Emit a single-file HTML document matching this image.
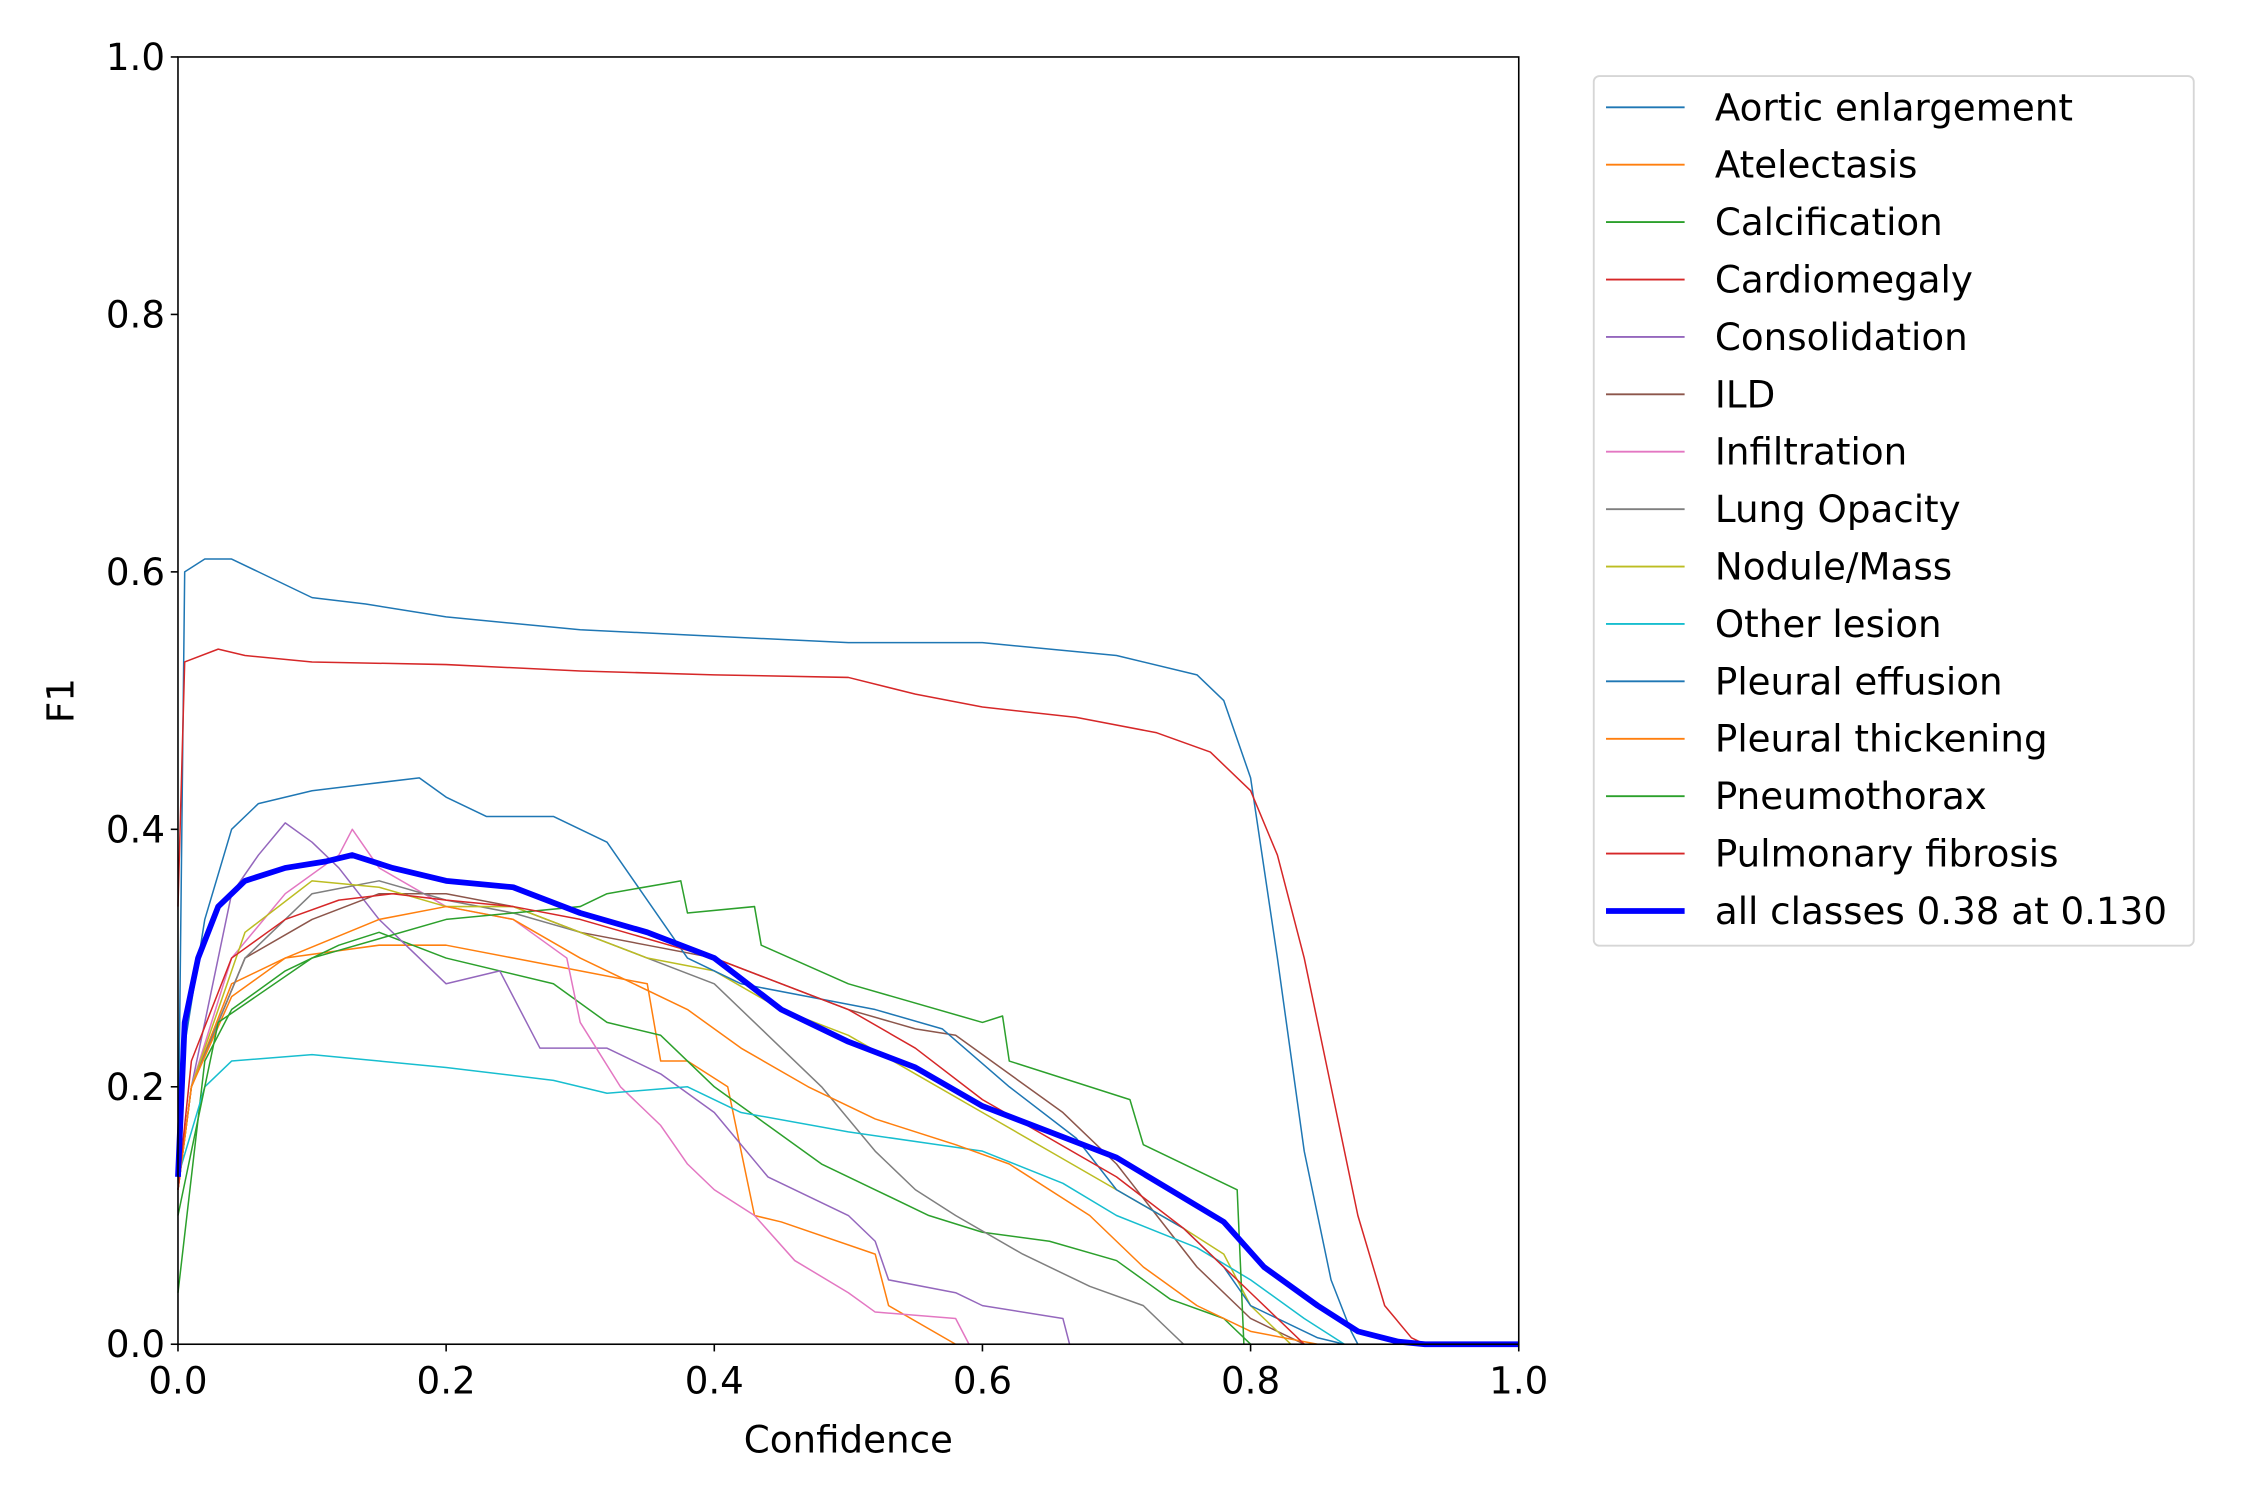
<!DOCTYPE html>
<html><head><meta charset="utf-8"><style>
html,body{margin:0;padding:0;background:#fff;}
svg{display:block;font-family:"DejaVu Sans","Liberation Sans",sans-serif;}
</style></head><body>
<svg id="chart" width="2250" height="1500" viewBox="0 0 1560 1040" xmlns="http://www.w3.org/2000/svg">
<rect width="1560" height="1040" fill="#fff"/>
<g id="plot"></g>
<g id="axes"></g>
<g id="legend"></g>
</svg>
<script>
const xTicks=[0,0.2,0.4,0.6,0.8,1.0];
const yTicks=[0,0.2,0.4,0.6,0.8,1.0];
const tickLabels=["0.0","0.2","0.4","0.6","0.8","1.0"];
const names=["Aortic enlargement","Atelectasis","Calcification","Cardiomegaly","Consolidation","ILD","Infiltration","Lung Opacity","Nodule/Mass","Other lesion","Pleural effusion","Pleural thickening","Pneumothorax","Pulmonary fibrosis"];
const colors=["#1f77b4","#ff7f0e","#2ca02c","#d62728","#9467bd","#8c564b","#e377c2","#7f7f7f","#bcbd22","#17becf","#1f77b4","#ff7f0e","#2ca02c","#d62728"];
const xs0=[0,0.005,0.02,0.04,0.06,0.1,0.14,0.2,0.3,0.4,0.5,0.6,0.7,0.76,0.78,0.8,0.82,0.84,0.86,0.875,0.88,1];
const ys0=[0.13,0.6,0.61,0.61,0.6,0.58,0.575,0.565,0.555,0.55,0.545,0.545,0.535,0.52,0.5,0.44,0.3,0.15,0.05,0.01,0,0];
const xs1=[0,0.01,0.04,0.08,0.15,0.2,0.25,0.3,0.35,0.36,0.38,0.41,0.43,0.45,0.52,0.53,0.58,1];
const ys1=[0.12,0.2,0.28,0.3,0.31,0.31,0.3,0.29,0.28,0.22,0.22,0.2,0.1,0.095,0.07,0.03,0,0];
const xs2=[0,0.02,0.04,0.08,0.12,0.15,0.2,0.28,0.32,0.36,0.4,0.44,0.48,0.52,0.56,0.6,0.65,0.7,0.74,0.78,0.8,1];
const ys2=[0.04,0.22,0.26,0.29,0.31,0.32,0.3,0.28,0.25,0.24,0.2,0.17,0.14,0.12,0.1,0.087,0.08,0.065,0.035,0.02,0,0];
const xs3=[0,0.005,0.03,0.05,0.1,0.2,0.3,0.4,0.5,0.55,0.6,0.67,0.73,0.77,0.8,0.82,0.84,0.86,0.88,0.9,0.92,0.93,1];
const ys3=[0.34,0.53,0.54,0.535,0.53,0.528,0.523,0.52,0.518,0.505,0.495,0.487,0.475,0.46,0.43,0.38,0.3,0.2,0.1,0.03,0.005,0,0];
const xs4=[0,0.01,0.04,0.06,0.08,0.1,0.12,0.15,0.17,0.19,0.2,0.24,0.26,0.27,0.32,0.36,0.4,0.44,0.5,0.52,0.53,0.58,0.6,0.66,0.665,1];
const ys4=[0.12,0.2,0.35,0.38,0.405,0.39,0.37,0.33,0.31,0.29,0.28,0.29,0.25,0.23,0.23,0.21,0.18,0.13,0.1,0.08,0.05,0.04,0.03,0.02,0,0];
const xs5=[0,0.01,0.05,0.1,0.15,0.2,0.25,0.3,0.35,0.4,0.45,0.5,0.55,0.58,0.62,0.66,0.7,0.73,0.76,0.8,0.84,1];
const ys5=[0.12,0.2,0.3,0.33,0.35,0.35,0.34,0.32,0.31,0.3,0.28,0.26,0.245,0.24,0.21,0.18,0.14,0.1,0.06,0.02,0,0];
const xs6=[0,0.01,0.04,0.08,0.12,0.13,0.15,0.2,0.25,0.29,0.3,0.33,0.36,0.38,0.4,0.43,0.46,0.5,0.52,0.58,0.59,1];
const ys6=[0.12,0.2,0.3,0.35,0.38,0.4,0.37,0.34,0.33,0.3,0.25,0.2,0.17,0.14,0.12,0.1,0.065,0.04,0.025,0.02,0,0];
const xs7=[0,0.01,0.05,0.1,0.15,0.2,0.25,0.3,0.35,0.4,0.44,0.48,0.52,0.55,0.58,0.63,0.68,0.72,0.74,0.75,1];
const ys7=[0.12,0.2,0.3,0.35,0.36,0.345,0.335,0.32,0.3,0.28,0.24,0.2,0.15,0.12,0.1,0.07,0.045,0.03,0.01,0,0];
const xs8=[0,0.01,0.05,0.1,0.15,0.2,0.25,0.3,0.35,0.4,0.45,0.5,0.55,0.6,0.65,0.7,0.75,0.78,0.8,0.83,1];
const ys8=[0.12,0.2,0.32,0.36,0.355,0.34,0.34,0.32,0.3,0.29,0.26,0.24,0.21,0.18,0.15,0.12,0.09,0.07,0.03,0,0];
const xs9=[0,0.02,0.04,0.1,0.15,0.2,0.28,0.32,0.38,0.42,0.5,0.6,0.66,0.7,0.76,0.8,0.84,0.87,1];
const ys9=[0.13,0.2,0.22,0.225,0.22,0.215,0.205,0.195,0.2,0.18,0.165,0.15,0.125,0.1,0.075,0.05,0.02,0,0];
const xs10=[0,0.02,0.04,0.06,0.1,0.14,0.18,0.2,0.23,0.28,0.32,0.34,0.36,0.38,0.42,0.47,0.52,0.57,0.62,0.67,0.7,0.75,0.78,0.8,0.85,0.87,1];
const ys10=[0.2,0.33,0.4,0.42,0.43,0.435,0.44,0.425,0.41,0.41,0.39,0.36,0.33,0.3,0.28,0.27,0.26,0.245,0.2,0.16,0.12,0.09,0.06,0.03,0.005,0,0];
const xs11=[0,0.01,0.04,0.08,0.15,0.2,0.25,0.3,0.34,0.38,0.42,0.47,0.52,0.58,0.62,0.68,0.72,0.76,0.8,0.85,1];
const ys11=[0.12,0.2,0.27,0.3,0.33,0.34,0.33,0.3,0.28,0.26,0.23,0.2,0.175,0.155,0.14,0.1,0.06,0.03,0.01,0,0];
const xs12=[0,0.03,0.1,0.2,0.3,0.32,0.375,0.38,0.43,0.435,0.5,0.6,0.615,0.62,0.71,0.72,0.79,0.795,1];
const ys12=[0.1,0.25,0.3,0.33,0.34,0.35,0.36,0.335,0.34,0.31,0.28,0.25,0.255,0.22,0.19,0.155,0.12,0,0];
const xs13=[0,0.01,0.04,0.08,0.12,0.16,0.2,0.25,0.3,0.35,0.4,0.45,0.5,0.55,0.6,0.65,0.7,0.75,0.8,0.84,1];
const ys13=[0.12,0.22,0.3,0.33,0.345,0.35,0.345,0.34,0.33,0.315,0.3,0.28,0.26,0.23,0.19,0.16,0.13,0.09,0.04,0,0];
const allX=[0,0.005,0.015,0.03,0.05,0.08,0.11,0.13,0.16,0.2,0.25,0.3,0.35,0.4,0.45,0.5,0.55,0.6,0.65,0.7,0.74,0.78,0.81,0.85,0.88,0.91,0.93,1];
const allY=[0.13,0.25,0.3,0.34,0.36,0.37,0.375,0.38,0.37,0.36,0.355,0.335,0.32,0.3,0.26,0.235,0.215,0.185,0.165,0.145,0.12,0.095,0.06,0.03,0.01,0.002,0,0];
const seriesX=[xs0,xs1,xs2,xs3,xs4,xs5,xs6,xs7,xs8,xs9,xs10,xs11,xs12,xs13];
const seriesY=[ys0,ys1,ys2,ys3,ys4,ys5,ys6,ys7,ys8,ys9,ys10,ys11,ys12,ys13];
const allLabel="all classes 0.38 at 0.130";

const NS="http://www.w3.org/2000/svg";
const L=123.4,R=1053,T=39.5,B=932;
const FS=25.8;
function sx(v){return L+(R-L)*v;}
function sy(v){return B-(B-T)*v;}
function mk(tag,attrs,parent){const e=document.createElementNS(NS,tag);for(const k in attrs)e.setAttribute(k,attrs[k]);parent.appendChild(e);return e;}
const plot=document.getElementById('plot'),axes=document.getElementById('axes'),leg=document.getElementById('legend');
function pathD(xa,ya){return xa.map((x,i)=>(i?'L':'M')+sx(x).toFixed(2)+','+sy(ya[i]).toFixed(2)).join('');}
for(let i=0;i<seriesX.length;i++){
  const p=mk('path',{d:pathD(seriesX[i],seriesY[i]),fill:'none',stroke:colors[i],'stroke-width':1.05,'stroke-linejoin':'round'},plot);
  
  
}
const ap=mk('path',{d:pathD(allX,allY),fill:'none',stroke:'#0000ff','stroke-width':4,'stroke-linejoin':'round'},plot);


const fr=mk('rect',{x:L,y:T,width:R-L,height:B-T,fill:'none',stroke:'#000','stroke-width':1.1},axes);


for(let i=0;i<xTicks.length;i++){
  const x=sx(xTicks[i]);
  const tk=mk('line',{x1:x,x2:x,y1:B,y2:B+5,stroke:'#000','stroke-width':1.1},axes);
  
  
  const t=mk('text',{x:x,y:B+34,'text-anchor':'middle','font-size':FS,fill:'#000'},axes);
  t.textContent=tickLabels[i];
  
  
}
for(let i=0;i<yTicks.length;i++){
  const y=sy(yTicks[i]);
  const tk=mk('line',{x1:L-5,x2:L,y1:y,y2:y,stroke:'#000','stroke-width':1.1},axes);
  
  
  const t=mk('text',{x:L-9,y:y+9,'text-anchor':'end','font-size':FS,fill:'#000'},axes);
  t.textContent=tickLabels[i];
  
  
}
const xt=mk('text',{x:(L+R)/2,y:1007,'text-anchor':'middle','font-size':FS},axes);
xt.textContent='Confidence';


const yt=mk('text',{x:0,y:0,'text-anchor':'middle','font-size':FS,transform:'translate(51,'+((T+B)/2)+') rotate(-90)'},axes);
yt.textContent='F1';


const lb=mk('rect',{x:1105,y:52.7,width:416,height:603,rx:4,fill:'#fff',stroke:'#d6d6d6','stroke-width':1.3},leg);


const labels=names.concat([allLabel]);
for(let i=0;i<labels.length;i++){
  const y=74.4+39.8*i;
  const g=mk('g',{},leg);
  
  
  const last=i===labels.length-1;
  mk('line',{x1:1113.5,x2:1168,y1:y,y2:y,stroke:last?'#0000ff':colors[i],'stroke-width':last?4:1.3},g);
  const t=mk('text',{x:1189,y:y+9,'font-size':FS,fill:'#000'},g);
  t.textContent=labels[i];
}
</script>
</body></html>
